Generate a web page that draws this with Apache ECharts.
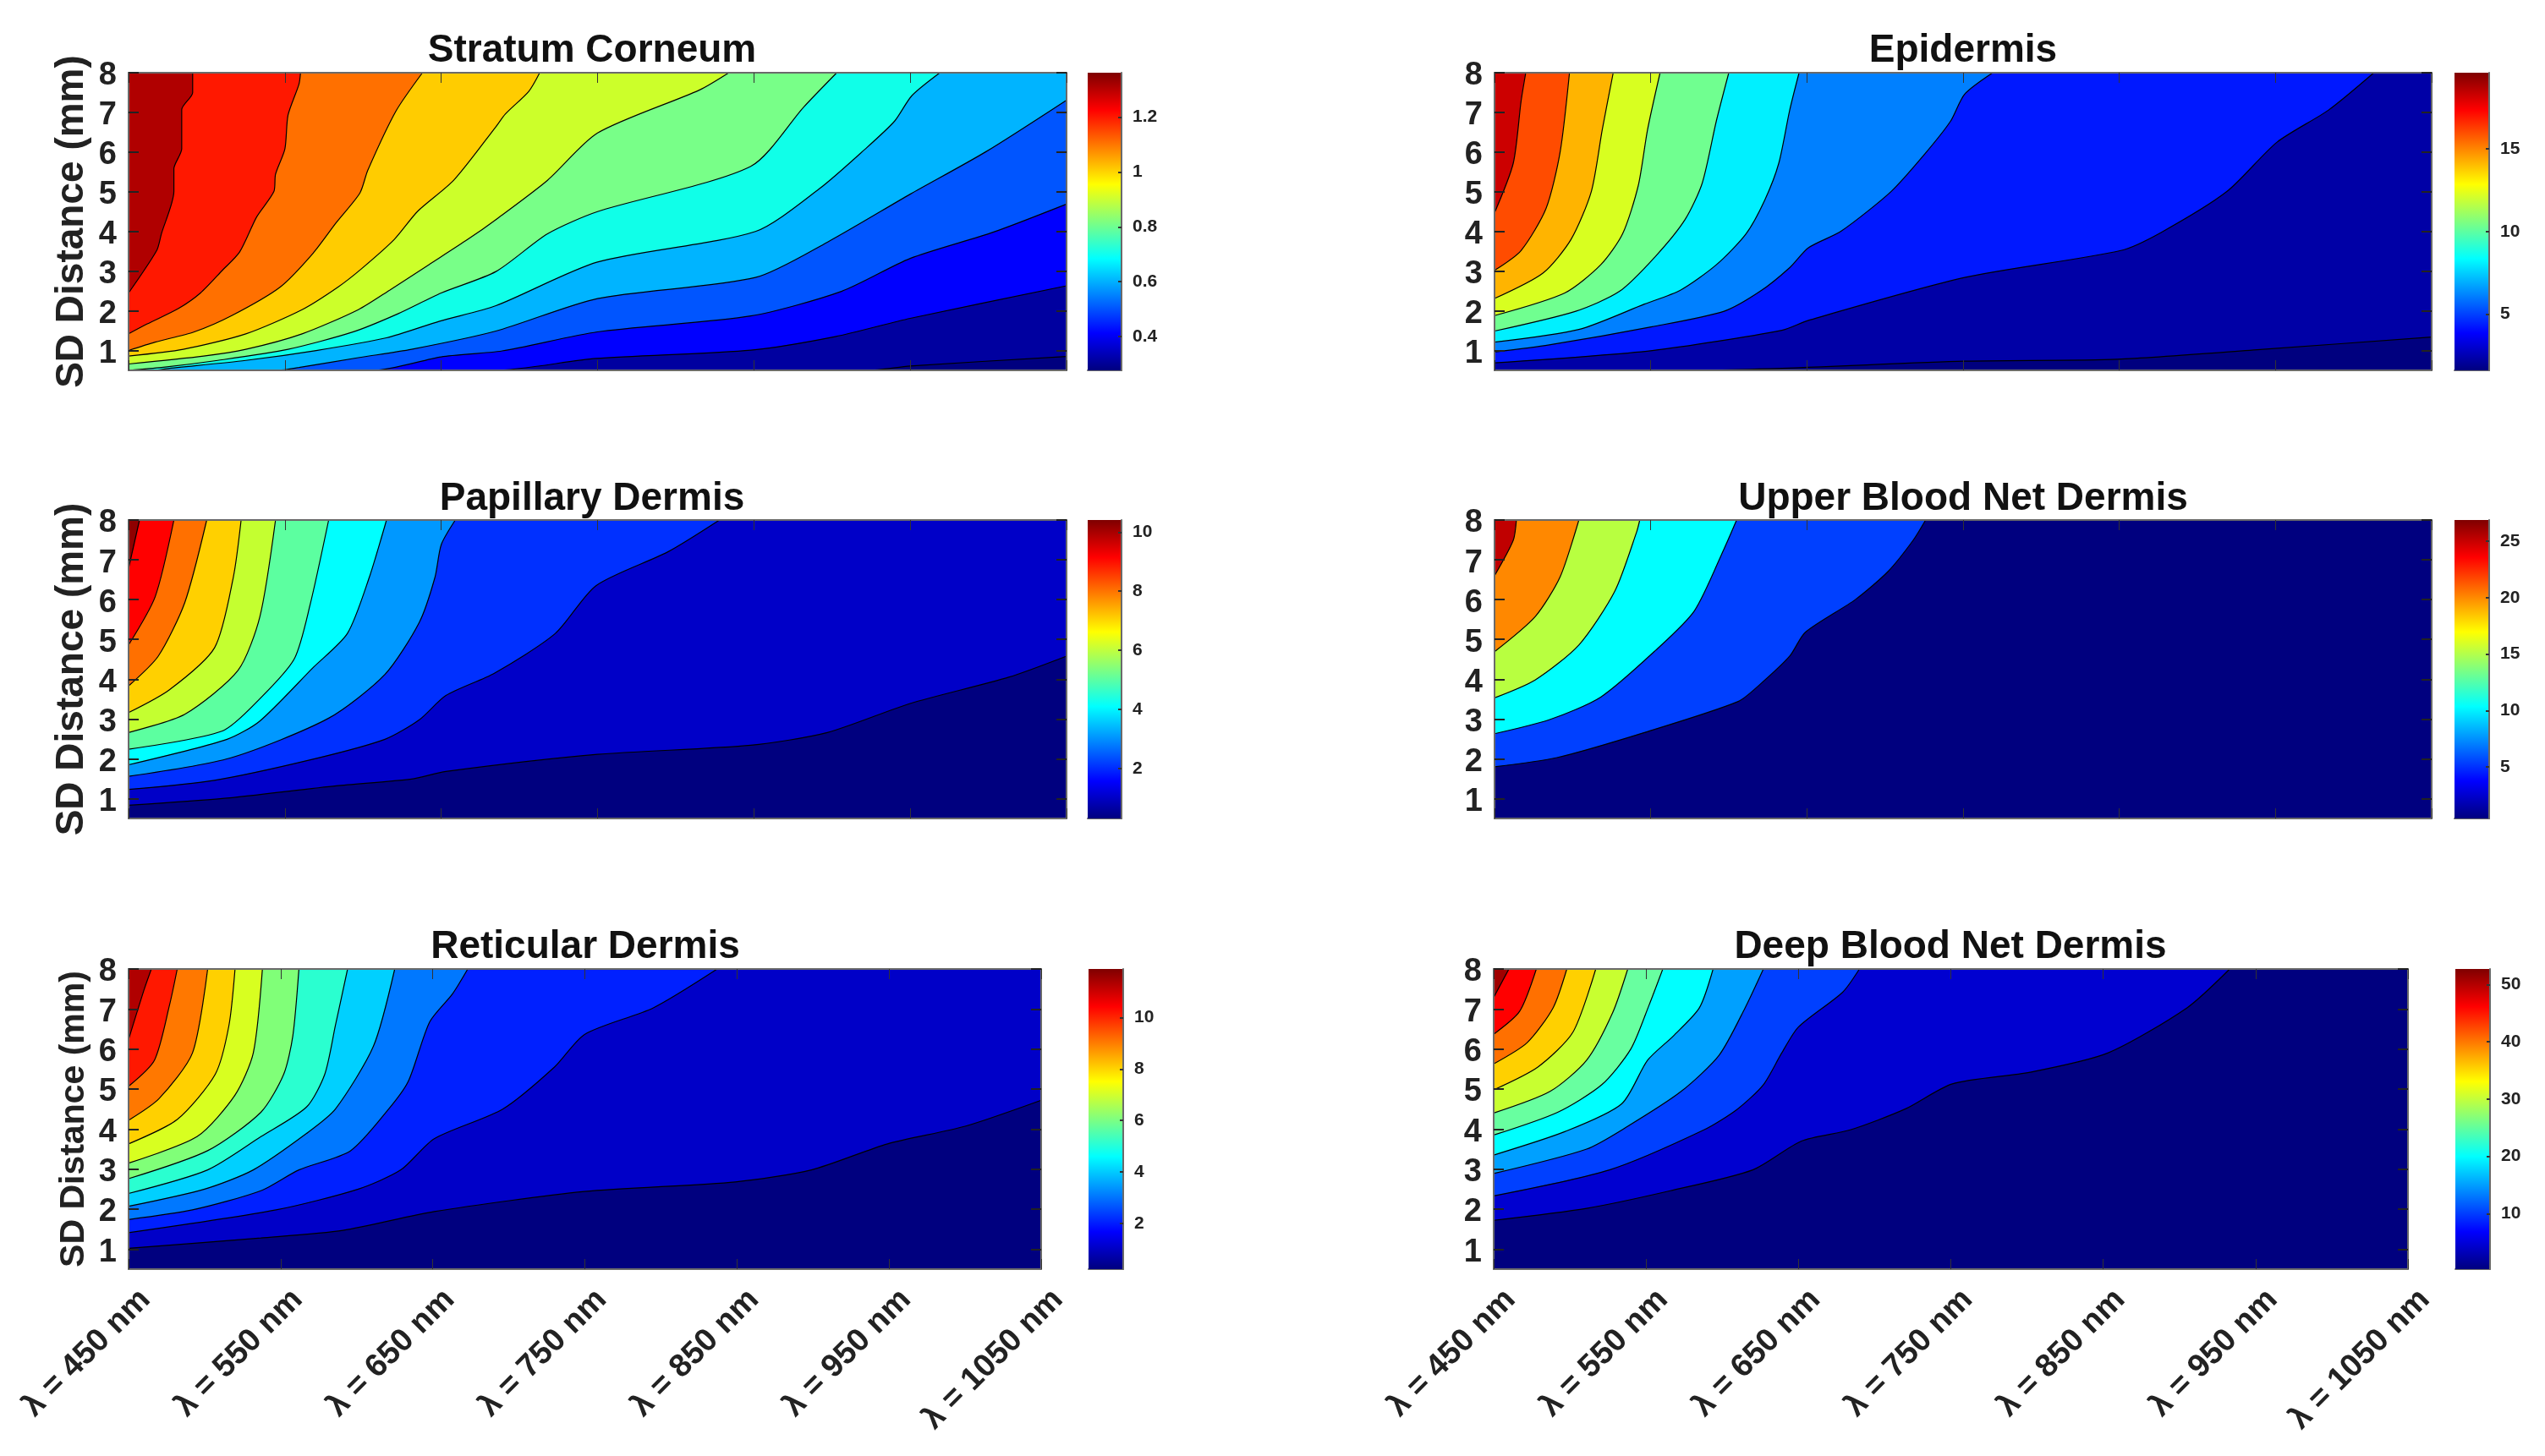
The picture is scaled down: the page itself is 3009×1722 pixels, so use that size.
<!DOCTYPE html>
<html>
<head>
<meta charset="utf-8">
<title>Layer sensitivity contours</title>
<style>
	html, body { margin: 0; padding: 0; background: #fff; }
	#chart { width: 3009px; height: 1722px; }
</style>
<script src="https://cdn.jsdelivr.net/npm/echarts@6/dist/echarts.min.js"></script>
</head>
<body>
<div id="chart"></div>
<script>
// wavelength (nm) and SD distance (mm) ticks
var wavelengths = [450, 550, 650, 750, 850, 950, 1050];
var distances = [1, 2, 3, 4, 5, 6, 7, 8];

// contour lines, lowest level first, each one [nm, mm]
var stratumCorneum = [
	[[450,0.5],[923,0.5],[950,0.61],[1050,0.85]],
	[[450,0.5],[684,0.5],[749,0.8],[848,1.01],[902,1.35],[950,1.81],[1050,2.63]],
	[[450,0.5],[607,0.5],[650,0.84],[689,0.99],[750,1.47],[848,1.87],[906,2.49],[950,3.32],[1003,3.98],[1050,4.69]],
	[[450,0.5],[546,0.5],[559,0.57],[597,0.82],[631,1.03],[685,1.49],[750,2.31],[851,2.84],[897,3.73],[950,4.94],[998,6.0],[1050,7.31]],
	[[450,0.5],[467,0.5],[474,0.54],[525,0.75],[570,1.0],[615,1.32],[649,1.74],[685,2.13],[750,3.23],[851,4.0],[892,5.08],[921,6.07],[940,6.78],[951,7.42],[969,8]],
	[[450,0.5],[471,0.57],[507,0.75],[552,1.03],[593,1.46],[622,1.92],[650,2.45],[685,2.99],[718,3.94],[750,4.5],[848,5.64],[882,7.14],[903,8]],
	[[450,0.66],[498,0.86],[525,1.03],[561,1.42],[597,2.03],[617,2.52],[642,3.16],[667,3.8],[685,4.3],[718,5.29],[750,6.48],[815,7.56],[834,8]],
	[[450,0.86],[485,1.03],[525,1.42],[561,2.03],[584,2.6],[599,3.06],[620,3.8],[635,4.51],[658,5.29],[685,6.64],[691,6.96],[706,7.53],[713,8]],
	[[450,1.0],[467,1.21],[492,1.47],[516,1.88],[547,2.6],[568,3.45],[583,4.23],[598,4.97],[603,5.54],[621,7.03],[638,8]],
	[[450,1.42],[462,1.67],[482,2.06],[496,2.45],[510,3.02],[521,3.48],[532,4.37],[543,5.01],[544,5.44],[550,6.08],[552,6.93],[559,7.71],[560,8]],
	[[450,2.45],[468,3.52],[471,3.94],[479,5.01],[479,5.58],[484,6.08],[484,7.07],[491,7.5],[491,8]]
];
var epidermis = [
	[[450,0.5],[579,0.5],[751,0.73],[849,0.78],[942,1.03],[1050,1.34]],
	[[450,0.69],[551,1.0],[634,1.51],[651,1.76],[751,2.84],[851,3.52],[877,3.98],[919,5.01],[951,6.25],[984,7.06],[1013,8]],
	[[450,0.96],[485,1.14],[551,1.6],[597,1.99],[620,2.49],[639,3.09],[651,3.59],[672,4.01],[704,5.01],[725,5.93],[742,6.78],[751,7.46],[769,8]],
	[[450,1.21],[504,1.53],[546,2.17],[569,2.52],[592,3.16],[611,3.94],[623,4.79],[632,5.72],[639,7.06],[645,8]],
	[[450,1.49],[502,1.99],[530,2.49],[553,3.37],[572,4.3],[583,5.22],[592,6.78],[600,8]],
	[[450,1.88],[495,2.45],[518,3.16],[532,3.94],[542,5.15],[548,6.57],[556,8]],
	[[450,2.31],[481,2.95],[499,3.8],[512,5.01],[519,6.57],[526,8]],
	[[450,3.02],[467,3.52],[483,4.58],[492,6.0],[498,8]],
	[[450,4.47],[462,5.72],[467,7.28],[470,8]]
];
var papillaryDermis = [
	[[450,0.83],[510,1.0],[583,1.32],[631,1.49],[653,1.68],[750,2.11],[848,2.34],[897,2.66],[950,3.39],[1013,4.05],[1050,4.58]],
	[[450,1.23],[505,1.46],[568,1.99],[614,2.49],[636,2.98],[653,3.59],[684,4.15],[723,5.15],[749,6.35],[795,7.2],[828,8]],
	[[450,1.56],[515,2.02],[578,3.02],[614,4.12],[636,5.43],[646,6.56],[650,7.38],[659,8]],
	[[450,1.85],[513,2.49],[534,2.95],[568,4.29],[590,5.15],[604,6.56],[615,8]],
	[[450,2.24],[510,2.7],[534,3.51],[556,4.51],[566,5.85],[578,8]],
	[[450,2.66],[486,3.12],[520,4.22],[534,5.57],[544,8]],
	[[450,3.16],[476,3.73],[505,4.79],[517,6.56],[522,8]],
	[[450,3.83],[469,4.58],[486,5.93],[500,8]],
	[[450,4.86],[467,6.07],[479,8]],
	[[450,6.78],[457,8]]
];
var upperBloodNet = [
	[[450,1.8],[490,2.03],[546,2.66],[606,3.44],[620,3.87],[639,4.58],[649,5.18],[681,6.0],[702,6.71],[718,7.49],[726,8]],
	[[450,2.63],[485,2.98],[518,3.55],[553,4.72],[578,5.72],[597,7.28],[605,8]],
	[[450,3.53],[476,3.98],[504,4.86],[527,6.21],[541,7.7],[543,8]],
	[[450,4.69],[476,5.57],[492,6.57],[504,8]],
	[[450,6.6],[462,7.49],[464,8]]
];
var reticularDermis = [
	[[450,1.02],[537,1.28],[591,1.47],[651,1.94],[750,2.44],[849,2.68],[899,2.98],[949,3.63],[1000,4.07],[1050,4.72]],
	[[450,1.41],[547,1.98],[601,2.5],[629,2.98],[651,3.76],[696,4.5],[730,5.55],[750,6.37],[795,7.03],[837,8]],
	[[450,1.74],[492,1.98],[537,2.46],[562,2.98],[596,3.46],[621,4.5],[634,5.2],[648,6.68],[663,7.38],[673,8]],
	[[450,2.07],[500,2.5],[532,2.98],[567,3.89],[586,4.5],[611,6.07],[625,8]],
	[[450,2.39],[502,2.98],[537,3.81],[567,4.55],[579,5.37],[586,6.59],[594,8]],
	[[450,2.76],[502,3.46],[537,4.42],[552,5.37],[558,6.33],[562,8]],
	[[450,3.15],[495,3.81],[520,4.85],[532,5.9],[538,8]],
	[[450,3.63],[482,4.24],[507,5.37],[516,6.59],[520,8]],
	[[450,4.22],[470,4.76],[492,5.9],[502,8]],
	[[450,5.07],[467,5.72],[477,7.11],[482,8]],
	[[450,6.24],[460,7.46],[465,8]]
];
var deepBloodNet = [
	[[450,1.72],[511,2.02],[566,2.46],[620,2.98],[652,3.7],[684,3.98],[720,4.5],[751,5.13],[802,5.42],[853,5.9],[905,7.03],[933,8]],
	[[450,2.33],[526,2.98],[588,3.98],[610,4.5],[627,5.11],[639,5.9],[650,6.55],[679,7.42],[690,8]],
	[[450,2.89],[511,3.5],[538,4.07],[573,4.94],[598,5.85],[615,7.03],[627,8]],
	[[450,3.35],[497,3.94],[534,4.63],[551,5.72],[568,6.33],[585,7.03],[594,8]],
	[[450,3.85],[492,4.42],[521,5.11],[540,6.0],[552,7.1],[561,8]],
	[[450,4.4],[487,4.94],[511,5.72],[528,6.9],[538,8]],
	[[450,4.98],[479,5.55],[502,6.42],[517,8]],
	[[450,5.63],[472,6.16],[489,7.03],[498,8]],
	[[450,6.37],[467,6.94],[478,8]],
	[[450,7.29],[460,8]]
];

// colorbar ranges and tick labels
var stratumRange = [0.277, 1.362], stratumTicks = [0.4, 0.6, 0.8, 1, 1.2];
var epidermisRange = [1.6, 19.6], epidermisTicks = [5, 10, 15];
var papillaryRange = [0.31, 10.41], papillaryTicks = [2, 4, 6, 8, 10];
var upperRange = [0.44, 26.87], upperTicks = [5, 10, 15, 20, 25];
var reticularRange = [0.22, 11.89], reticularTicks = [2, 4, 6, 8, 10];
var deepRange = [0.3, 52.7], deepTicks = [10, 20, 30, 40, 50];

// band colours, first one is the plot background
var stratumColors = ['#00007f', '#0000a0', '#0000ff', '#0055ff', '#00b4ff', '#10ffe8', '#78ff88', '#ccff2a', '#ffcc00', '#ff7000', '#ff1800', '#b00000'];
var epidermisColors = ['#00007f', '#0000a6', '#0018ff', '#0080ff', '#00f0ff', '#70ff90', '#d8ff20', '#ffb400', '#ff4c00', '#cc0000'];
var papillaryColors = ['#00007f', '#0000c8', '#0030ff', '#0098ff', '#00ffff', '#5cffa0', '#c4ff30', '#ffd000', '#ff7000', '#ff0000', '#8f0000'];
var upperColors = ['#00007f', '#0040ff', '#00ffff', '#b8ff40', '#ff8800', '#c00000'];
var reticularColors = ['#00007f', '#0000c8', '#0020ff', '#0078ff', '#00d0ff', '#2affd0', '#80ff78', '#d8ff20', '#ffd000', '#ff7800', '#ff1800', '#b00000'];
var deepColors = ['#00007f', '#0000d0', '#0040ff', '#00a0ff', '#00ffff', '#68ffa0', '#c8ff30', '#ffd000', '#ff7000', '#ff0000', '#a00000'];

var jetStops = [
	{offset: 0, color: '#00007f'},
	{offset: 0.125, color: '#0000ff'},
	{offset: 0.375, color: '#00ffff'},
	{offset: 0.625, color: '#ffff00'},
	{offset: 0.875, color: '#ff0000'},
	{offset: 1, color: '#7f0000'}
];

var panels = [
	{title: 'Stratum Corneum', lines: stratumCorneum, colors: stratumColors, range: stratumRange, ticks: stratumTicks, box: [152, 86, 1261, 438], bar: [1286, 1326], titleX: 695, titleY: 55, nameSize: 46},
	{title: 'Epidermis', lines: epidermis, colors: epidermisColors, range: epidermisRange, ticks: epidermisTicks, box: [1767, 86, 2875, 438], bar: [2902, 2943], titleX: 2316, titleY: 55},
	{title: 'Papillary Dermis', lines: papillaryDermis, colors: papillaryColors, range: papillaryRange, ticks: papillaryTicks, box: [152, 615, 1261, 968], bar: [1286, 1326], titleX: 695, titleY: 585, nameSize: 46},
	{title: 'Upper Blood Net Dermis', lines: upperBloodNet, colors: upperColors, range: upperRange, ticks: upperTicks, box: [1767, 615, 2875, 968], bar: [2902, 2943], titleX: 2316, titleY: 585},
	{title: 'Reticular Dermis', lines: reticularDermis, colors: reticularColors, range: reticularRange, ticks: reticularTicks, box: [152, 1146, 1231, 1501], bar: [1287, 1328], titleX: 687, titleY: 1115, nameSize: 41, showX: true},
	{title: 'Deep Blood Net Dermis', lines: deepBloodNet, colors: deepColors, range: deepRange, ticks: deepTicks, box: [1766, 1146, 2847, 1501], bar: [2903, 2944], titleX: 2301, titleY: 1115, showX: true}
];

var grid = [], xAxis = [], yAxis = [], series = [], title = [];
var fontName = '"Liberation Sans", Arial, sans-serif';
var frame = {show: true, lineStyle: {color: '#6a6a6a', width: 2}};

function addAxes(gridIndex, p) {
	var xTick = {show: true, inside: true, length: 12, customValues: wavelengths, lineStyle: {color: '#333', width: 1}};
	var yTick = {show: true, inside: true, length: 12, customValues: distances, lineStyle: {color: '#222', width: 2}};

	xAxis.push({
		type: 'value', gridIndex: gridIndex, position: 'bottom', min: 450, max: 1050, z: 5,
		splitLine: {show: false}, axisLine: frame, axisTick: xTick,
		axisLabel: {
			show: !!p.showX, customValues: wavelengths, rotate: 45, margin: 50, hideOverlap: false,
			padding: [0, -28, 0, 0],
			fontFamily: fontName, fontWeight: 'bold', fontSize: 38, color: '#222',
			formatter: function (v) { return 'λ = ' + v + ' nm'; }
		}
	});
	xAxis.push({
		type: 'value', gridIndex: gridIndex, position: 'top', min: 450, max: 1050, z: 5,
		splitLine: {show: false}, axisLine: frame, axisTick: xTick, axisLabel: {show: false}
	});
	yAxis.push({
		type: 'value', gridIndex: gridIndex, position: 'left', min: 0.5, max: 8, z: 5,
		splitLine: {show: false}, axisLine: frame, axisTick: yTick,
		axisLabel: {customValues: distances, margin: 14, verticalAlign: 'top', padding: [-15, 0, 0, 0], fontFamily: fontName, fontWeight: 'bold', fontSize: 38, color: '#222'},
		name: p.nameSize ? 'SD Distance (mm)' : '', nameLocation: 'middle', nameRotate: 90, nameGap: 44,
		nameTextStyle: {fontFamily: fontName, fontWeight: 'bold', fontSize: p.nameSize || 46, color: '#222'}
	});
	yAxis.push({
		type: 'value', gridIndex: gridIndex, position: 'right', min: 0.5, max: 8, z: 5,
		splitLine: {show: false}, axisLine: frame, axisTick: yTick, axisLabel: {show: false}
	});
}

panels.forEach(function (p, i) {
	var plotIndex = i * 2, barIndex = i * 2 + 1;
	var axisBase = xAxis.length, yBase = yAxis.length;

	// plot
	grid.push({left: p.box[0], top: p.box[1], width: p.box[2] - p.box[0], height: p.box[3] - p.box[1], show: true, borderWidth: 0, backgroundColor: p.colors[0]});
	addAxes(plotIndex, p);

	// one filled band per contour, drawn upward from the lowest
	p.lines.forEach(function (line, k) {
		series.push({
			type: 'line', xAxisIndex: axisBase, yAxisIndex: yBase, data: line,
			showSymbol: false, symbol: 'none', silent: true, animation: false,
			smooth: 0.25, smoothMonotone: 'none',
			lineStyle: {color: '#000', width: 1.2},
			areaStyle: {color: p.colors[k + 1], opacity: 1, origin: 'end'}
		});
	});

	// colorbar
	grid.push({left: p.bar[0], top: p.box[1], width: p.bar[1] - p.bar[0], height: p.box[3] - p.box[1]});
	xAxis.push({type: 'category', gridIndex: barIndex, data: ['level'], axisLine: frame, axisTick: {show: false}, axisLabel: {show: false}});
	yAxis.push({
		type: 'value', gridIndex: barIndex, position: 'right', min: p.range[0], max: p.range[1], z: 5,
		splitLine: {show: false}, axisLine: frame,
		axisTick: {show: true, inside: true, length: 4, customValues: p.ticks, lineStyle: {color: '#333', width: 2}},
		axisLabel: {customValues: p.ticks, margin: 13, fontFamily: fontName, fontWeight: 'bold', fontSize: 21, color: '#222'}
	});
	series.push({
		type: 'bar', xAxisIndex: axisBase + 2, yAxisIndex: yBase + 2, data: [p.range[1]],
		barWidth: '100%', silent: true, animation: false,
		itemStyle: {color: {type: 'linear', x: 0, y: 1, x2: 0, y2: 0, colorStops: jetStops}}
	});

	title.push({
		text: p.title, left: p.titleX, top: p.titleY, textAlign: 'center', textVerticalAlign: 'middle',
		textStyle: {fontFamily: fontName, fontWeight: 'bold', fontSize: 46, color: '#111'}
	});
});

var myChart = echarts.init(document.getElementById('chart'));
myChart.setOption({
	backgroundColor: '#fff',
	animation: false,
	title: title,
	grid: grid,
	xAxis: xAxis,
	yAxis: yAxis,
	series: series
});
</script>
</body>
</html>
